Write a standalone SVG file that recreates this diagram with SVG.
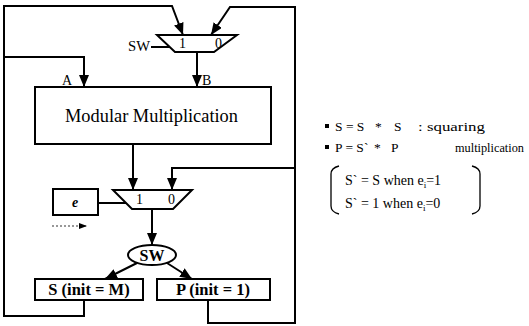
<svg xmlns="http://www.w3.org/2000/svg" width="529" height="326" viewBox="0 0 529 326">
<defs>
<marker id="arr" markerUnits="userSpaceOnUse" markerWidth="12" markerHeight="10" refX="12" refY="5" orient="auto">
<path d="M0,0 L12,5 L0,10 z" fill="#000"/>
</marker>
<marker id="arrs" markerUnits="userSpaceOnUse" markerWidth="8" markerHeight="6" refX="8" refY="3" orient="auto">
<path d="M0,0 L8,3 L0,6 z" fill="#000"/>
</marker>
<style>
.ln{fill:none;stroke:#000;stroke-width:2}
.box{fill:#fff;stroke:#000;stroke-width:2}
</style>
</defs>
<rect width="529" height="326" fill="#fff"/>
<g id="connectors">
<path class="ln" d="M84,300 V316 H4 V6 H172 L183,35" marker-end="url(#arr)"/>
<path class="ln" d="M4,57 H84 V87" marker-end="url(#arr)"/>
<path class="ln" d="M208,300 V323 H295 V7 H230 L211,35" marker-end="url(#arr)"/>
<path class="ln" d="M295,168 H172 V190" marker-end="url(#arr)"/>
<path class="ln" d="M197,52 V87" marker-end="url(#arr)"/>
<path class="ln" d="M151,47 H170"/>
<path class="ln" d="M133,144 V190" marker-end="url(#arr)"/>
<path class="ln" d="M98,203 H126"/>
<path class="ln" d="M152,209 V245" marker-end="url(#arr)"/>
<path class="ln" d="M137,263 L105,279" marker-end="url(#arr)"/>
<path class="ln" d="M167,263 L192,279" marker-end="url(#arr)"/>
<path d="M52,226 H87" fill="none" stroke="#777" stroke-width="1.5" stroke-dasharray="2,2" marker-end="url(#arrs)"/>
<text font-family="Liberation Serif, serif" x="62" y="85" font-size="14">A</text>
<text font-family="Liberation Serif, serif" x="202" y="85" font-size="14">B</text>
<text font-family="Liberation Serif, serif" x="128" y="51" font-size="14" textLength="22" lengthAdjust="spacingAndGlyphs">SW</text>
</g>
<g id="mux1">
<path class="box" d="M157,35 H237 L214,52 H175 Z"/>
<text font-family="Liberation Serif, serif" x="179" y="48" font-size="14">1</text>
<text font-family="Liberation Serif, serif" x="215" y="48" font-size="14">0</text>
</g>
<g id="modmul">
<rect class="box" x="35" y="87" width="236" height="57"/>
<text font-family="Liberation Serif, serif" x="65" y="122" font-size="18" textLength="173" lengthAdjust="spacingAndGlyphs">Modular Multiplication</text>
</g>
<g id="mux2">
<path class="box" d="M113,190 H192 L173,209 H132 Z"/>
<text font-family="Liberation Serif, serif" x="136" y="204" font-size="14">1</text>
<text font-family="Liberation Serif, serif" x="168" y="204" font-size="14">0</text>
</g>
<g id="ebox">
<rect class="box" x="53" y="189" width="45" height="26"/>
<text font-family="Liberation Serif, serif" font-weight="bold" x="75" y="207" font-size="14" font-style="italic" text-anchor="middle">e</text>
</g>
<g id="sw">
<ellipse class="box" cx="152" cy="255" rx="24" ry="10"/>
<text font-family="Liberation Serif, serif" font-weight="bold" x="152" y="261" font-size="16" text-anchor="middle">SW</text>
</g>
<g id="sreg">
<rect class="box" x="35" y="279" width="108" height="21"/>
<text font-family="Liberation Serif, serif" font-weight="bold" x="89" y="295" font-size="16.5" text-anchor="middle">S (init = M)</text>
</g>
<g id="preg">
<rect class="box" x="157" y="279" width="113" height="21"/>
<text font-family="Liberation Serif, serif" font-weight="bold" x="213" y="295" font-size="16.5" text-anchor="middle">P (init = 1)</text>
</g>
<g id="notes" font-family="Liberation Serif, serif" font-size="13.5">
<rect x="325" y="124" width="4" height="4" fill="#000"/>
<text x="335" y="131">S = S<tspan x="375">*</tspan><tspan x="394">S</tspan></text>
<text x="418" y="131" textLength="67" lengthAdjust="spacingAndGlyphs">: squaring</text>
<rect x="325" y="145" width="4" height="4" fill="#000"/>
<text x="335" y="152">P = S`<tspan x="374">*</tspan><tspan x="391">P</tspan></text>
<text x="455" y="152" textLength="69" lengthAdjust="spacingAndGlyphs">multiplication</text>
<path d="M339,166 Q331,168 331,174 V206 Q331,212 339,214" fill="none" stroke="#000" stroke-width="1.3"/>
<path d="M472,166 Q480,168 480,174 V206 Q480,212 472,214" fill="none" stroke="#000" stroke-width="1.3"/>
<text x="345" y="185" font-size="14">S` = S when e<tspan font-size="9" dy="3">i</tspan><tspan dy="-3">=1</tspan></text>
<text x="345" y="208" font-size="14">S` = 1 when e<tspan font-size="9" dy="3">i</tspan><tspan dy="-3">=0</tspan></text>
</g>
</svg>
